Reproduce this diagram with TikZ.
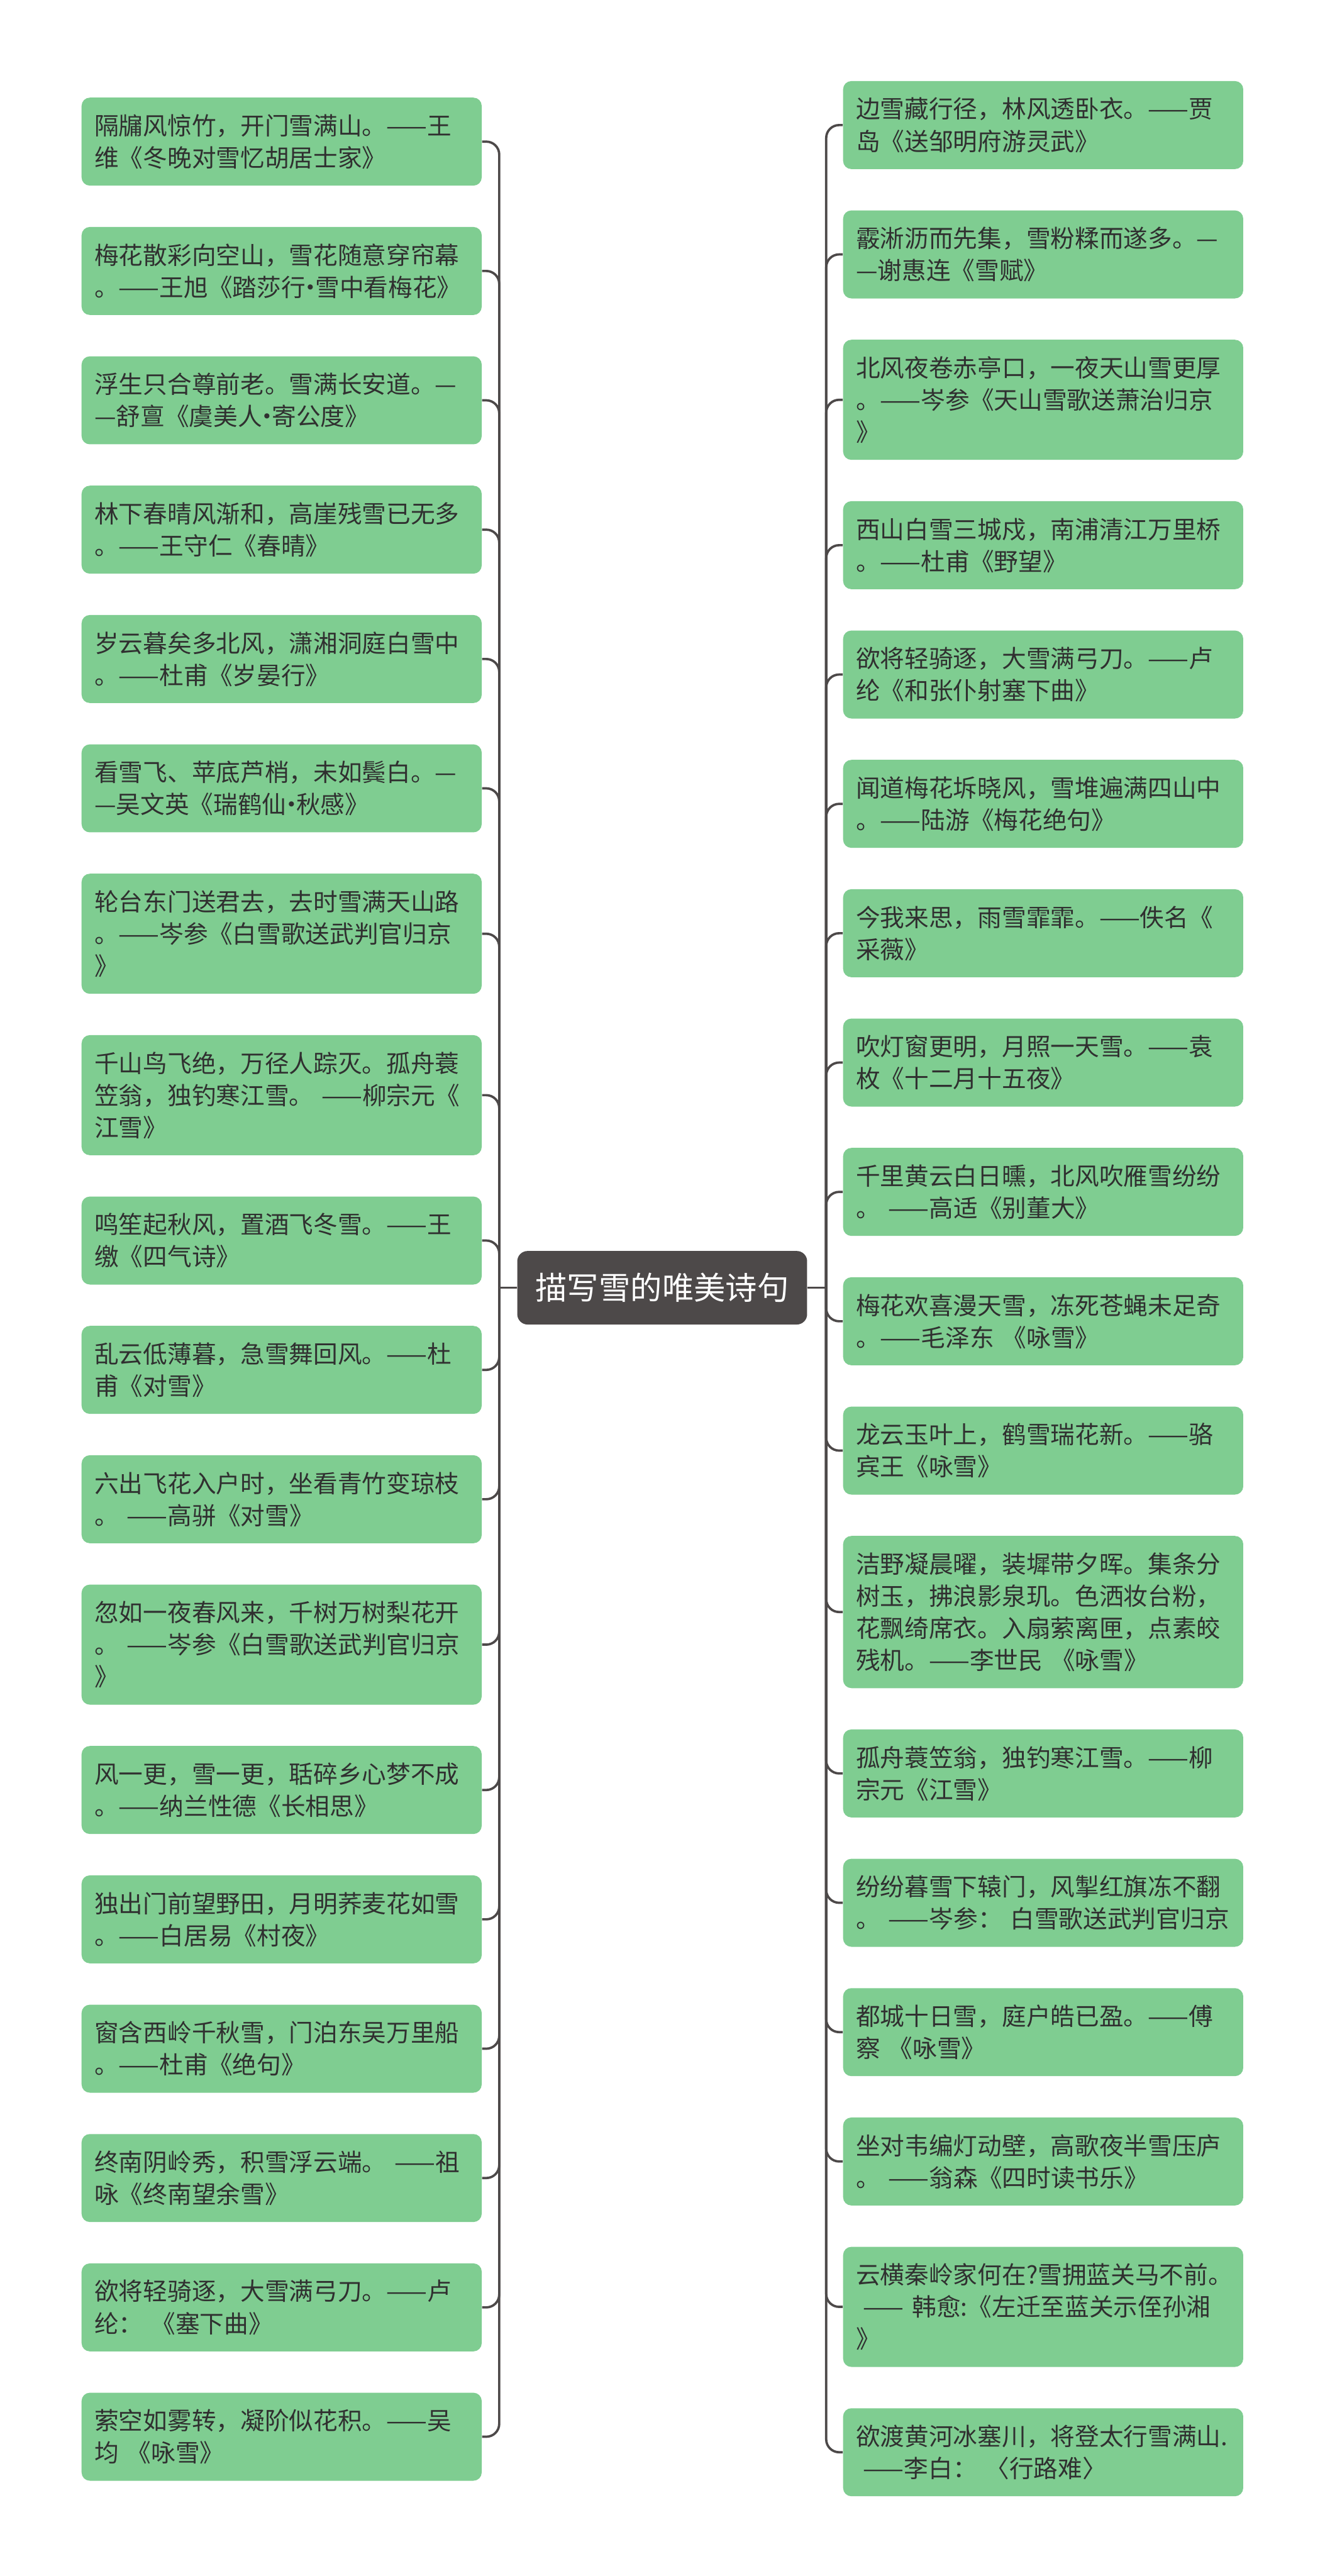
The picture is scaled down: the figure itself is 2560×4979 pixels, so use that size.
\documentclass[tikz,border=0pt]{standalone}
\usepackage{fontspec}
\setmainfont{Noto Sans CJK SC}
\definecolor{leaf}{RGB}{127,205,145}
\definecolor{rootc}{RGB}{77,73,73}
\definecolor{linec}{RGB}{77,73,73}
\definecolor{txt}{RGB}{48,48,48}
\newcommand\mydot{\makebox[0.4em]{·}}
\newcommand\kl[1]{\mbox{#1}}
\begin{document}
\begin{tikzpicture}[x=0.01cm,y=-0.01cm,
  leafbox/.style={fill=leaf, rounded corners=0.16cm, text=txt, align=left,
    text width=7.23cm, inner xsep=0.25cm, inner ysep=0pt, anchor=north west,
    font=\fontsize{13.37pt}{17.64pt}\selectfont},
  hA/.style={minimum height=1.70cm},
  hB/.style={minimum height=2.32cm},
  hC/.style={minimum height=2.94cm},
  conn/.style={draw=linec, line width=1.28pt, rounded corners=0.25cm},
  rootbox/.style={fill=rootc, rounded corners=0.2cm, text=white,
    minimum width=5.6cm, minimum height=1.42cm, inner sep=0pt,
    font=\fontsize{17.4pt}{22pt}\selectfont}]
\useasboundingbox[fill=white] (0,0) rectangle (2560,4979);

\node[rootbox] (root) at (1280,2489) {描写雪的唯美诗句};
\coordinate (LJ) at (965,2489);
\coordinate (RJ) at (1597,2489);

% left column
\node[leafbox,hA] (L1) at (157,188) {\kl{隔牖风惊竹，开门雪满山。——王}\\维《冬晚对雪忆胡居士家》};
\node[leafbox,hA] (L2) at (157,438) {\kl{梅花散彩向空山，雪花随意穿帘幕}\\\kl{。——王旭《踏莎行\mydot 雪中看梅花》}};
\node[leafbox,hA] (L3) at (157,688) {\kl{浮生只合尊前老。雪满长安道。—}\\—舒亶《虞美人\mydot 寄公度》};
\node[leafbox,hA] (L4) at (157,938) {\kl{林下春晴风渐和，高崖残雪已无多}\\。——王守仁《春晴》};
\node[leafbox,hA] (L5) at (157,1188) {\kl{岁云暮矣多北风，潇湘洞庭白雪中}\\。——杜甫《岁晏行》};
\node[leafbox,hA] (L6) at (157,1438) {\kl{看雪飞、苹底芦梢，未如鬓白。—}\\—吴文英《瑞鹤仙\mydot 秋感》};
\node[leafbox,hB] (L7) at (157,1688) {\kl{轮台东门送君去，去时雪满天山路}\\\kl{。——岑参《白雪歌送武判官归京}\\》};
\node[leafbox,hB] (L8) at (157,2000) {\kl{千山鸟飞绝，万径人踪灭。孤舟蓑}\\\kl{笠翁，独钓寒江雪。 ——柳宗元《}\\江雪》};
\node[leafbox,hA] (L9) at (157,2312) {\kl{鸣笙起秋风，置酒飞冬雪。——王}\\缴《四气诗》};
\node[leafbox,hA] (L10) at (157,2562) {\kl{乱云低薄暮，急雪舞回风。——杜}\\甫《对雪》};
\node[leafbox,hA] (L11) at (157,2812) {\kl{六出飞花入户时，坐看青竹变琼枝}\\。 ——高骈《对雪》};
\node[leafbox,hB] (L12) at (157,3062) {\kl{忽如一夜春风来，千树万树梨花开}\\\kl{。 ——岑参《白雪歌送武判官归京}\\》};
\node[leafbox,hA] (L13) at (157,3374) {\kl{风一更，雪一更，聒碎乡心梦不成}\\。——纳兰性德《长相思》};
\node[leafbox,hA] (L14) at (157,3624) {\kl{独出门前望野田，月明荞麦花如雪}\\。——白居易《村夜》};
\node[leafbox,hA] (L15) at (157,3874) {\kl{窗含西岭千秋雪，门泊东吴万里船}\\。——杜甫《绝句》};
\node[leafbox,hA] (L16) at (157,4124) {\kl{终南阴岭秀，积雪浮云端。 ——祖}\\咏《终南望余雪》};
\node[leafbox,hA] (L17) at (157,4374) {\kl{欲将轻骑逐，大雪满弓刀。——卢}\\\kl{纶： 《塞下曲》}};
\node[leafbox,hA] (L18) at (157,4624) {\kl{萦空如雾转，凝阶似花积。——吴}\\\kl{均 《咏雪》}};

% right column
\node[leafbox,hA] (R1) at (1629,156) {\kl{边雪藏行径，林风透卧衣。——贾}\\岛《送邹明府游灵武》};
\node[leafbox,hA] (R2) at (1629,406) {\kl{霰淅沥而先集，雪粉糅而遂多。—}\\—谢惠连《雪赋》};
\node[leafbox,hB] (R3) at (1629,656) {\kl{北风夜卷赤亭口，一夜天山雪更厚}\\\kl{。——岑参《天山雪歌送萧治归京}\\》};
\node[leafbox,hA] (R4) at (1629,968) {\kl{西山白雪三城戍，南浦清江万里桥}\\。——杜甫《野望》};
\node[leafbox,hA] (R5) at (1629,1218) {\kl{欲将轻骑逐，大雪满弓刀。——卢}\\纶《和张仆射塞下曲》};
\node[leafbox,hA] (R6) at (1629,1468) {\kl{闻道梅花坼晓风，雪堆遍满四山中}\\。——陆游《梅花绝句》};
\node[leafbox,hA] (R7) at (1629,1718) {\kl{今我来思，雨雪霏霏。——佚名《}\\采薇》};
\node[leafbox,hA] (R8) at (1629,1968) {\kl{吹灯窗更明，月照一天雪。——袁}\\枚《十二月十五夜》};
\node[leafbox,hA] (R9) at (1629,2218) {\kl{千里黄云白日曛，北风吹雁雪纷纷}\\\kl{。 ——高适《别董大》}};
\node[leafbox,hA] (R10) at (1629,2468) {\kl{梅花欢喜漫天雪，冻死苍蝇未足奇}\\\kl{。——毛泽东 《咏雪》}};
\node[leafbox,hA] (R11) at (1629,2718) {\kl{龙云玉叶上，鹤雪瑞花新。——骆}\\宾王《咏雪》};
\node[leafbox,hC] (R12) at (1629,2968) {\kl{洁野凝晨曜，装墀带夕晖。集条分}\\\kl{树玉，拂浪影泉玑。色洒妆台粉，}\\\kl{花飘绮席衣。入扇萦离匣，点素皎}\\\kl{残机。——李世民 《咏雪》}};
\node[leafbox,hA] (R13) at (1629,3342) {\kl{孤舟蓑笠翁，独钓寒江雪。——柳}\\宗元《江雪》};
\node[leafbox,hA] (R14) at (1629,3592) {\kl{纷纷暮雪下辕门，风掣红旗冻不翻}\\\kl{。 ——岑参： 白雪歌送武判官归京}};
\node[leafbox,hA] (R15) at (1629,3842) {\kl{都城十日雪，庭户皓已盈。——傅}\\\kl{察 《咏雪》}};
\node[leafbox,hA] (R16) at (1629,4092) {\kl{坐对韦编灯动壁，高歌夜半雪压庐}\\\kl{。 ——翁森《四时读书乐》}};
\node[leafbox,hB] (R17) at (1629,4342) {\kl{云横秦岭家何在?雪拥蓝关马不前。}\\\kl{\hspace*{0.3em}—— 韩愈:《左迁至蓝关示侄孙湘}\\》};
\node[leafbox,hA] (R18) at (1629,4654) {\kl{欲渡黄河冰塞川，将登太行雪满山.}\\\kl{\hspace*{0.3em}——李白： 〈行路难〉}};

% connectors
\draw[conn] (root.west) -- (LJ);
\draw[conn] (root.east) -- (RJ);
\foreach \i in {1,...,18} {
  \draw[conn] (LJ) |- (L\i.east);
  \draw[conn] (RJ) |- (R\i.west);
}
\end{tikzpicture}
\end{document}
